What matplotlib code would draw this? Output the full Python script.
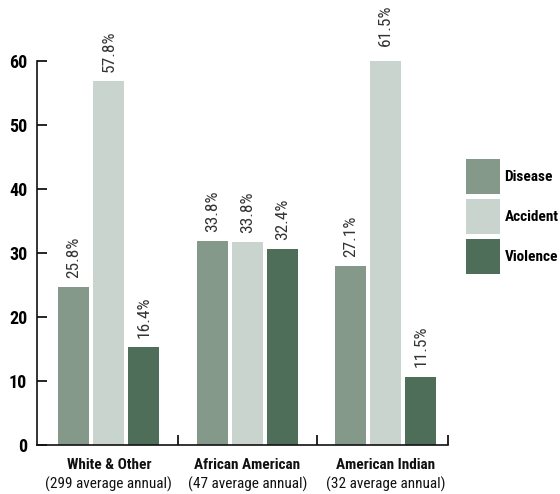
import numpy as np
import matplotlib.pyplot as plt
from matplotlib.transforms import blended_transform_factory

groups = ["White & Other", "African American", "American Indian"]
subtitles = ["(299 average annual)", "(47 average annual)", "(32 average annual)"]
causes = ["Disease", "Accident", "Violence"]
disease = [24.7, 31.9, 27.9]
accident = [56.9, 31.7, 60.9]
violence = [15.3, 30.6, 10.7]
disease_lbl = ["25.8%", "33.8%", "27.1%"]
accident_lbl = ["57.8%", "33.8%", "61.5%"]
violence_lbl = ["16.4%", "32.4%", "11.5%"]
colors = ["#84998a", "#cad4cf", "#4f6e5a"]

narrow = ["Roboto Condensed", "DejaVu Sans"]

fig = plt.figure(figsize=(5.6, 4.94), dpi=100)
ax = fig.add_axes([0.066, 0.0992, 0.734, 0.7773])

x = np.arange(len(groups))
w = 0.224
step = 0.253
series = [disease, accident, violence]
labels = [disease_lbl, accident_lbl, violence_lbl]
for i, (vals, lbls) in enumerate(zip(series, labels)):
    bars = ax.bar(x + (i - 1) * step, vals, w, color=colors[i], label=causes[i])
    for b, t in zip(bars, lbls):
        ax.annotate(t, (b.get_x() + b.get_width() / 2, b.get_height()),
                    xytext=(0, 6.5), textcoords="offset points",
                    rotation=90, ha="center", va="bottom",
                    fontsize=12.5, color="#333333", family=narrow,
                    annotation_clip=False)

ax.set_ylim(0, 60)
ax.set_xlim(-0.52, 2.45)
ax.spines["top"].set_visible(False)
ax.spines["right"].set_visible(False)
for s in ["left", "bottom"]:
    ax.spines[s].set_linewidth(1.2)
    ax.spines[s].set_color("#111111")

ax.set_yticks([0, 10, 20, 30, 40, 50, 60])
ax.tick_params(axis="y", direction="in", length=7, width=1.2, pad=7)
for lab in ax.get_yticklabels():
    lab.set_family(narrow)
    lab.set_fontweight("bold")
    lab.set_fontsize(13)

ax.set_xticks([0.5, 1.5, 2.45])
ax.set_xticklabels([])
ax.tick_params(axis="x", direction="in", length=7, width=1.2)

tr = blended_transform_factory(ax.transData, fig.transFigure)
for xi, g, s in zip(x, groups, subtitles):
    fig.text(xi, 1 - 465 / 494, g, transform=tr, ha="center", va="center",
             fontsize=11, fontweight="bold", family=narrow, color="#111111")
    fig.text(xi, 1 - 484 / 494, s, transform=tr, ha="center", va="center",
             fontsize=11, family=narrow, color="#111111")

fig.legend(loc="center left", bbox_to_anchor=(0.832, 1 - 216.5 / 494),
           frameon=False, borderpad=0, borderaxespad=0,
           handlelength=2.227, handleheight=3.05,
           labelspacing=0.39, handletextpad=0.3,
           prop={"family": narrow, "weight": "bold", "size": 11})

fig.savefig("out.png", dpi=100)
